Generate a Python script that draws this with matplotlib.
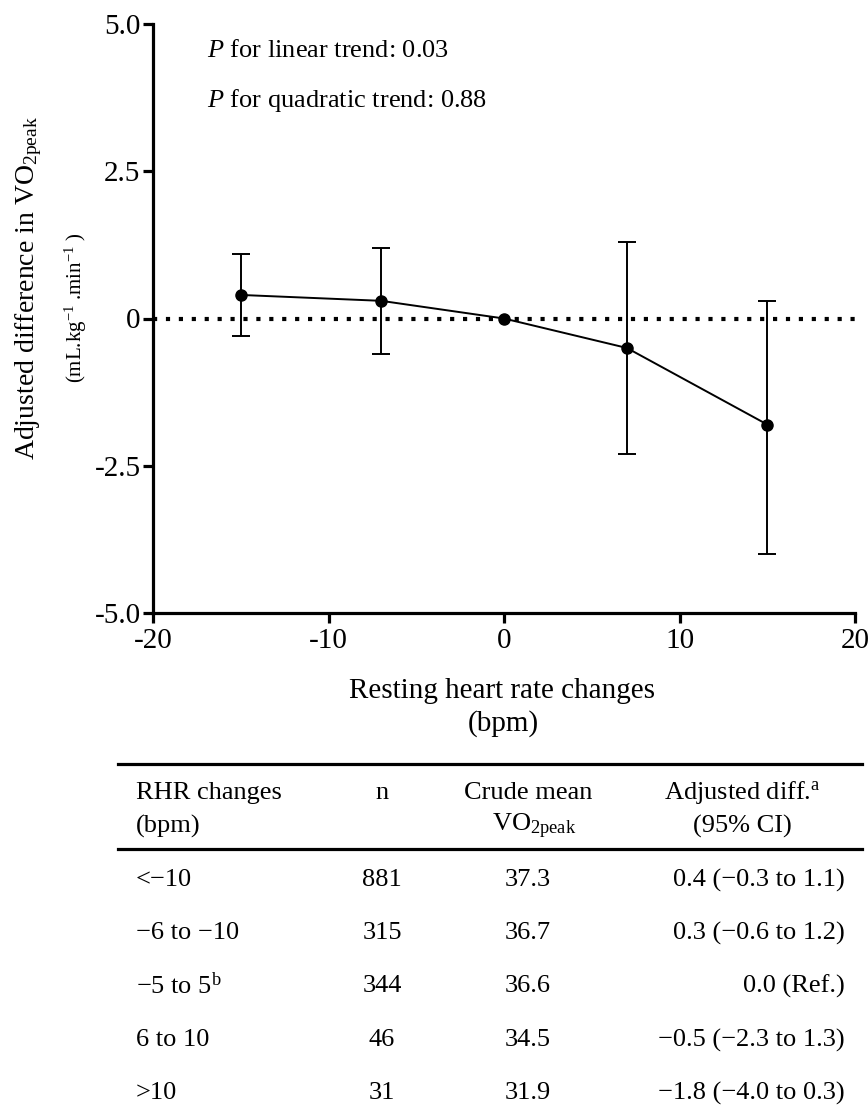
import matplotlib
matplotlib.use("Agg")
import matplotlib.pyplot as plt
import numpy as np

plt.rcParams['font.family'] = ['Liberation Serif', 'DejaVu Serif']
plt.rcParams['mathtext.fontset'] = 'custom'
plt.rcParams['mathtext.rm'] = 'Liberation Serif'
plt.rcParams['mathtext.it'] = 'Liberation Serif:italic'
plt.rcParams['mathtext.bf'] = 'Liberation Serif:bold'

# ---- data ----
rhr_change = [-15, -7, 0, 7, 15]
adj_diff = [0.4, 0.3, 0.0, -0.5, -1.8]
ci_low = [-0.3, -0.6, 0.0, -2.3, -4.0]
ci_high = [1.1, 1.2, 0.0, 1.3, 0.3]
is_ref = [False, False, True, False, False]

x_ticks = [-20, -10, 0, 10, 20]
x_ticklabels = ["-20", "-10", "0", "10", "20"]
y_ticks = [-5.0, -2.5, 0, 2.5, 5.0]
y_ticklabels = ["-5.0", "-2.5", "0", "2.5", "5.0"]

p_linear = "0.03"
p_quadratic = "0.88"

rhr_groups = ["<\u221210", "\u22126 to \u221210", "\u22125 to 5$^{\\mathregular{b}}$", "6 to 10", ">10"]
n_values = [881, 315, 344, 46, 31]
crude_means = [37.3, 36.7, 36.6, 34.5, 31.9]

W, H = 868, 1111
fig = plt.figure(figsize=(W / 100, H / 100), dpi=100)
fig.patch.set_facecolor("white")

def fx(px):
    return px / W

def fy(py):
    return 1 - py / H

ax = fig.add_axes([fx(153), fy(613), fx(855) - fx(153), fy(24) - fy(613)])
ax.set_xlim(-20, 20)
ax.set_ylim(-5, 5)
for s in ["top", "right"]:
    ax.spines[s].set_visible(False)
for s in ["left", "bottom"]:
    ax.spines[s].set_linewidth(2.3)
ax.tick_params(width=2.3, length=7, direction="out", labelsize=21, pad=2)
ax.tick_params(axis="x", pad=4)
ax.set_xticks(x_ticks)
ax.set_xticklabels(x_ticklabels)
ax.set_yticks(y_ticks)
ax.set_yticklabels(y_ticklabels)

ax.axhline(0, color="black", lw=3.0, linestyle=(0, (1.0, 2.1)), zorder=1)

x = np.array(rhr_change, dtype=float)
y = np.array(adj_diff)
lo = np.array(ci_low)
hi = np.array(ci_high)
mask = ~np.array(is_ref)
ax.errorbar(x[mask], y[mask], yerr=[y[mask] - lo[mask], hi[mask] - y[mask]],
            fmt="none", ecolor="black", elinewidth=1.4, capsize=6.5, capthick=1.4, zorder=2)
ax.plot(x, y, color="black", lw=1.4, marker="o", markersize=8, zorder=3)

# annotations
fig.text(fx(207), fy(57), "$\\mathit{P}$ for linear trend: " + p_linear, fontsize=19, va="baseline", ha="left")
fig.text(fx(207), fy(107), "$\\mathit{P}$ for quadratic trend: " + p_quadratic, fontsize=19, va="baseline", ha="left")

# axis labels
fig.text(fx(29), fy(288), "Adjusted difference in VO$_{\\mathregular{2peak}}$", rotation=90,
         fontsize=20, ha="center", va="center")
fig.text(fx(76), fy(308), "(mL.kg$^{\\mathregular{-1}}$ .min$^{\\mathregular{-1}}$ )", rotation=90,
         fontsize=15, ha="center", va="center")
fig.text(fx(502), fy(691), "Resting heart rate changes", fontsize=21, ha="center", va="center")
fig.text(fx(503), fy(724), "(bpm)", fontsize=21, ha="center", va="center")

# ---- table ----
tab = fig.add_axes([0, 0, 1, 1])
tab.set_xlim(0, W)
tab.set_ylim(H, 0)
tab.axis("off")
tab.patch.set_alpha(0)

tab.plot([118, 862], [764, 764], color="black", lw=2.3)
tab.plot([118, 862], [849, 849], color="black", lw=2.3)

fs = 19
col_left = 136
col_n = 382
col_mean = 528
col_adj_c = 742
col_adj_r = 845

tab.text(col_left, 793, "RHR changes", fontsize=fs, ha="left", va="center")
tab.text(col_left, 826, "(bpm)", fontsize=fs, ha="left", va="center")
tab.text(col_n, 793, "n", fontsize=fs, ha="center", va="center")
tab.text(col_mean, 793, "Crude mean", fontsize=fs, ha="center", va="center")
tab.text(col_mean + 6, 826, "VO$_{\\mathregular{2peak}}$", fontsize=fs, ha="center", va="center")
tab.text(col_adj_c, 793, "Adjusted diff.$^{\\mathregular{a}}$", fontsize=fs, ha="center", va="center")
tab.text(col_adj_c, 826, "(95% CI)", fontsize=fs, ha="center", va="center")

def fmt(v):
    return f"{v:.1f}".replace("-", "\u2212")

row_y = [880, 933, 986, 1040, 1093]
for i, ry in enumerate(row_y):
    tab.text(col_left, ry, rhr_groups[i], fontsize=fs, ha="left", va="center")
    tab.text(col_n, ry, str(n_values[i]), fontsize=fs, ha="center", va="center")
    tab.text(col_mean, ry, f"{crude_means[i]:.1f}", fontsize=fs, ha="center", va="center")
    if is_ref[i]:
        s = f"{fmt(adj_diff[i])} (Ref.)"
    else:
        s = f"{fmt(adj_diff[i])} ({fmt(ci_low[i])} to {fmt(ci_high[i])})"
    tab.text(col_adj_r, ry, s, fontsize=fs, ha="right", va="center")

fig.savefig("out.png", dpi=100, facecolor="white")
